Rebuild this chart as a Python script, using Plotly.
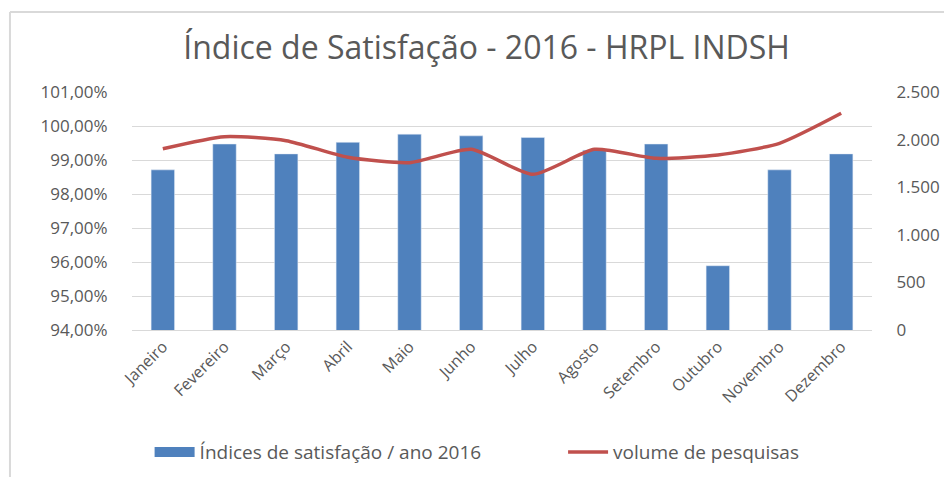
import plotly.graph_objects as go

meses = ["Janeiro", "Fevereiro", "Março", "Abril", "Maio", "Junho", "Julho",
         "Agosto", "Setembro", "Outubro", "Novembro", "Dezembro"]
indice_satisfacao = [0.9871, 0.9947, 0.9918, 0.9952, 0.9976, 0.9971, 0.9966,
                     0.9929, 0.9947, 0.9589, 0.9871, 0.9918]
volume_pesquisas = [1904, 2031, 1989, 1814, 1758, 1898, 1635, 1898, 1803, 1838, 1961, 2276]

FONT = "Open Sans"
GRAY = "#595959"
BLUE = "#4F81BD"
RED = "#C0504D"

fig = go.Figure()
fig.add_trace(go.Bar(
    x=meses, y=indice_satisfacao, name="Índices de satisfação / ano 2016",
    marker=dict(color=BLUE), yaxis="y", showlegend=False, legendgroup="idx"))
# legend proxy (wide patch like the reference legend)
fig.add_trace(go.Scatter(
    x=[None], y=[None], name="Índices de satisfação / ano 2016", mode="lines",
    line=dict(color=BLUE, width=10), legendgroup="idx", yaxis="y",
    legend="legend"))
fig.add_trace(go.Scatter(
    x=meses, y=volume_pesquisas, name="volume de pesquisas", mode="lines",
    line=dict(color=RED, width=3.5, shape="spline", smoothing=0.6),
    yaxis="y2", legend="legend2"))

legend_common = dict(orientation="h", xref="container", xanchor="left",
                     y=0.053, yref="container", yanchor="middle",
                     font=dict(family=FONT, size=19, color=GRAY),
                     itemwidth=40, bgcolor="rgba(0,0,0,0)")

fig.update_layout(
    width=944, height=469,
    margin=dict(l=124, r=80, t=84, b=147),
    paper_bgcolor="white", plot_bgcolor="white",
    separators=",.",
    font=dict(family=FONT, color=GRAY, size=15),
    title=dict(text="Índice de Satisfação - 2016 - HRPL INDSH",
               x=0.507, xref="container", xanchor="center",
               y=0.915, yref="container", yanchor="middle",
               font=dict(family=FONT, size=32, color=GRAY)),
    bargap=0.62,
    showlegend=True,
    legend=dict(x=0.150, **legend_common),
    legend2=dict(x=0.588, **legend_common),
    xaxis=dict(tickangle=-45, showgrid=False, showline=True, linecolor="#D9D9D9",
               linewidth=1, ticks="", tickfont=dict(size=16, color=GRAY)),
    yaxis=dict(range=[0.94, 1.01], dtick=0.01, tick0=0.94, tickformat=".2%",
               showgrid=True, gridcolor="#D9D9D9", gridwidth=1, zeroline=False,
               ticks="outside", ticklen=20, tickcolor="rgba(0,0,0,0)",
               tickfont=dict(size=17, color=GRAY)),
    yaxis2=dict(range=[0, 2500], dtick=500, tickformat=",d", overlaying="y",
                side="right", showgrid=False, zeroline=False,
                ticks="outside", ticklen=20, tickcolor="rgba(0,0,0,0)",
                tickfont=dict(size=17, color=GRAY)),
    shapes=[
        dict(type="line", xref="paper", yref="paper", x0=-0.1649, x1=1.12,
             y0=1.336, y1=1.336, line=dict(color="#D9D9D9", width=2)),
        dict(type="line", xref="paper", yref="paper", x0=-0.1649, x1=-0.1649,
             y0=1.336, y1=-0.63, line=dict(color="#D9D9D9", width=2)),
    ],
)

fig.write_html("out.html")
